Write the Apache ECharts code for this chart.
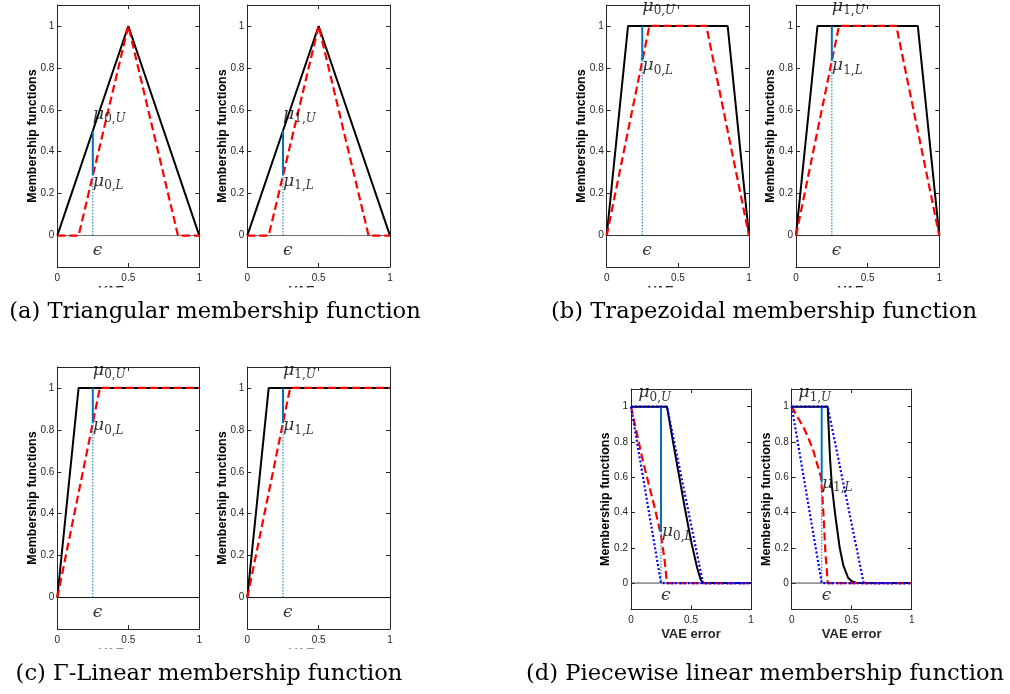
<!DOCTYPE html>
<html>
<head>
<meta charset="utf-8">
<script src="https://cdn.jsdelivr.net/npm/echarts@6/dist/echarts.min.js"></script>
<style>html,body{margin:0;padding:0;background:#fff}#c{width:1010px;height:694px}</style>
</head>
<body>
<div id="c"></div>
<script>
// ---------- data ----------
const xTickValues = [0, 0.5, 1];
const yTickValues = [0, 0.2, 0.4, 0.6, 0.8, 1];
const epsilon = 0.25;
const zeroLine = [[0, 0], [1, 0]];

// (a) triangular
const triUpper = [[0, 0], [0.5, 1], [1, 0]];
const triLower = [[0, 0], [0.15, 0], [0.5, 1], [0.85, 0], [1, 0]];
const triMu = [0.286, 0.5];          // [mu_L, mu_U] at epsilon

// (b) trapezoidal
const trapUpper = [[0, 0], [0.15, 1], [0.85, 1], [1, 0]];
const trapLower = [[0, 0], [0.3, 1], [0.7, 1], [1, 0]];
const trapMu = [0.833, 1];

// (c) Gamma-linear
const gammaUpper = [[0, 0], [0.15, 1], [1, 1]];
const gammaLower = [[0, 0], [0.3, 1], [1, 1]];
const gammaMu = [0.833, 1];

// (d) piecewise linear, class 0
const pw0Upper = [[0, 1], [0.3, 1], [0.35, 0.8], [0.4, 0.61], [0.45, 0.42], [0.5, 0.24], [0.55, 0.09], [0.58, 0.02], [0.6, 0], [1, 0]];
const pw0Lower = [[0, 1], [0.1, 0.69], [0.2, 0.42], [0.25, 0.27], [0.28, 0.13], [0.3, 0], [1, 0]];
const pw0BoundHigh = [[0, 1], [0.3, 1], [0.6, 0], [1, 0]];
const pw0BoundLow = [[0, 1], [0.25, 0], [1, 0]];
const pw0Mu = [0.29, 1];

// (d) piecewise linear, class 1
const pw1Upper = [[0, 1], [0.3, 1], [0.31, 0.85], [0.32, 0.7], [0.335, 0.55], [0.36, 0.4], [0.38, 0.3], [0.4, 0.2], [0.43, 0.1], [0.47, 0.03], [0.5, 0.01], [0.54, 0], [1, 0]];
const pw1Lower = [[0, 1], [0.05, 0.94], [0.1, 0.88], [0.14, 0.82], [0.18, 0.75], [0.21, 0.68], [0.244, 0.6], [0.255, 0.5], [0.267, 0.36], [0.281, 0.17], [0.292, 0.08], [0.3, 0], [1, 0]];
const pw1BoundHigh = [[0, 1], [0.3, 1], [0.6, 0], [1, 0]];
const pw1BoundLow = [[0, 1], [0.25, 0], [1, 0]];
const pw1Mu = [0.57, 1];

// annotation anchors: [subscript class, bound, x, y]
const annTri0 = [['0', 'U', 0.25, 0.58], ['0', 'L', 0.25, 0.26]];
const annTri1 = [['1', 'U', 0.25, 0.58], ['1', 'L', 0.25, 0.26]];
const annTrap0 = [['0', 'U', 0.25, 1.095], ['0', 'L', 0.25, 0.81]];
const annTrap1 = [['1', 'U', 0.25, 1.095], ['1', 'L', 0.25, 0.81]];
const annGam0 = [['0', 'U', 0.25, 1.085], ['0', 'L', 0.25, 0.82]];
const annGam1 = [['1', 'U', 0.25, 1.085], ['1', 'L', 0.25, 0.82]];
const annPw0 = [['0', 'U', 0.06, 1.08], ['0', 'L', 0.256, 0.29]];
const annPw1 = [['1', 'U', 0.055, 1.08], ['1', 'L', 0.25, 0.565]];
const epsPos = [0.25, -0.072];

const captions = ['(a) Triangular membership function', '(b) Trapezoidal membership function',
                  '(c) \u0393-Linear membership function', '(d) Piecewise linear membership function'];

// ---------- layout ----------
const panels = [
  {l: 57.3, t: 5, w: 142, h: 262, up: triUpper, lo: triLower, mu: triMu, ann: annTri0, zc: '#6e6e6e'},
  {l: 247.3, t: 5, w: 142.7, h: 262, up: triUpper, lo: triLower, mu: triMu, ann: annTri1, zc: '#6e6e6e'},
  {l: 606.7, t: 5, w: 142.3, h: 262, up: trapUpper, lo: trapLower, mu: trapMu, ann: annTrap0, zc: '#333'},
  {l: 796, t: 5, w: 143.3, h: 262, up: trapUpper, lo: trapLower, mu: trapMu, ann: annTrap1, zc: '#333'},
  {l: 57.3, t: 367, w: 142, h: 262, up: gammaUpper, lo: gammaLower, mu: gammaMu, ann: annGam0, zc: '#111'},
  {l: 247.3, t: 367, w: 142.7, h: 262, up: gammaUpper, lo: gammaLower, mu: gammaMu, ann: annGam1, zc: '#111'},
  {l: 631, t: 389, w: 120, h: 220.5, up: pw0Upper, lo: pw0Lower, mu: pw0Mu, ann: annPw0, bh: pw0BoundHigh, bl: pw0BoundLow, zc: '#444'},
  {l: 791.7, t: 389, w: 120, h: 220.5, up: pw1Upper, lo: pw1Lower, mu: pw1Mu, ann: annPw1, bh: pw1BoundHigh, bl: pw1BoundLow, zc: '#444'}
];

const axisColor = '#262626';
const tickFont = {fontFamily: 'Liberation Sans, Arial, sans-serif', fontSize: 10, color: axisColor};
const grid = [], xAxis = [], yAxis = [], series = [];

const rich = {
  m: {fontFamily: 'DejaVu Serif', fontStyle: 'italic', fontSize: 17.5, lineHeight: 22, color: '#000'},
  d: {fontFamily: 'DejaVu Serif', fontSize: 12, lineHeight: 9, verticalAlign: 'bottom', color: '#000'},
  s: {fontFamily: 'DejaVu Serif', fontStyle: 'italic', fontSize: 12, lineHeight: 9, verticalAlign: 'bottom', color: '#000'}
};

panels.forEach((p, gi) => {
  grid.push({left: p.l, top: p.t, width: p.w, height: p.h});
  const line = {show: true, onZero: false, lineStyle: {color: axisColor, width: 1}};
  xAxis.push({gridIndex: gi, type: 'value', min: 0, max: 1, position: 'bottom',
    axisLine: line, splitLine: {show: false},
    axisTick: {inside: true, length: 4, customValues: xTickValues, lineStyle: {color: axisColor}},
    axisLabel: {customValues: xTickValues, margin: 6, ...tickFont},
    name: 'VAE error', nameLocation: 'middle', nameGap: 18,
    nameTextStyle: {fontFamily: 'Liberation Sans, Arial, sans-serif', fontWeight: 'bold', fontSize: 13, color: axisColor}});
  xAxis.push({gridIndex: gi, type: 'value', min: 0, max: 1, position: 'top',
    axisLine: line, splitLine: {show: false},
    axisTick: {inside: true, length: 4, customValues: xTickValues, lineStyle: {color: axisColor}},
    axisLabel: {show: false}});
  yAxis.push({gridIndex: gi, type: 'value', min: -0.15, max: 1.1, position: 'left',
    axisLine: line, splitLine: {show: false},
    axisTick: {inside: true, length: 4, customValues: yTickValues, lineStyle: {color: axisColor}},
    axisLabel: {customValues: yTickValues, margin: 3, ...tickFont},
    name: 'Membership functions', nameLocation: 'middle', nameGap: 18.5, nameMoveOverlap: false,
    nameTextStyle: {fontFamily: 'Liberation Sans, Arial, sans-serif', fontWeight: 'bold', fontSize: 12.5, color: '#000'}});
  yAxis.push({gridIndex: gi, type: 'value', min: -0.15, max: 1.1, position: 'right',
    axisLine: line, splitLine: {show: false},
    axisTick: {inside: true, length: 4, customValues: yTickValues, lineStyle: {color: axisColor}},
    axisLabel: {show: false}});

  const ax = {xAxisIndex: 2 * gi, yAxisIndex: 2 * gi};
  const base = {type: 'line', symbol: 'none', silent: true, ...ax};
  series.push({...base, data: zeroLine, lineStyle: {color: p.zc, width: 1}, z: 1});
  series.push({...base, data: p.up, lineStyle: {color: '#000', width: 2}, z: 2});
  series.push({...base, data: p.lo, lineStyle: {color: '#ff0000', width: 2.2, type: [8, 4]}, z: 3});
  series.push({...base, data: [[epsilon, 0], [epsilon, p.mu[0]]], lineStyle: {color: '#2f86c8', width: 1.2, type: [1.5, 1.5]}, z: 4});
  series.push({...base, data: [[epsilon, p.mu[0]], [epsilon, p.mu[1]]], lineStyle: {color: '#0072BD', width: 2}, z: 4});
  if (p.bh) {
    series.push({...base, data: p.bh, lineStyle: {color: '#0000ff', width: 2.2, type: [2, 2.2]}, z: 5});
    series.push({...base, data: p.bl, lineStyle: {color: '#0000ff', width: 2.2, type: [2, 2.2]}, z: 5});
  }
  series.push({type: 'scatter', ...ax, symbolSize: 0, silent: true, z: 6,
    data: p.ann.map(a => ({value: [a[2], a[3]], sub: a[0], b: a[1]})),
    label: {show: true, position: 'right', distance: 0, rich,
      formatter: (q) => '{m|\u03bc}{d|' + q.data.sub + ',}{s|' + q.data.b + '}'}});
  series.push({type: 'scatter', ...ax, symbolSize: 0, silent: true, z: 6,
    data: [epsPos],
    label: {show: true, position: 'right', distance: 0, formatter: '\u03f5',
      fontFamily: 'DejaVu Serif', fontStyle: 'italic', fontSize: 17, color: '#000'}});
});

const capFont = {fontFamily: 'DejaVu Serif', fontSize: 22.6, fill: '#000', textAlign: 'center', textVerticalAlign: 'middle'};
const graphic = [
  {type: 'rect', shape: {x: 0, y: 287.5, width: 1010, height: 50}, style: {fill: '#fff'}, z: 100},
  {type: 'rect', shape: {x: 0, y: 648.5, width: 500, height: 46}, style: {fill: '#fff'}, z: 100},
  {type: 'text', x: 215, y: 312, style: {text: captions[0], ...capFont}, z: 101},
  {type: 'text', x: 764, y: 312, style: {text: captions[1], ...capFont}, z: 101},
  {type: 'text', x: 209, y: 674, style: {text: captions[2], ...capFont}, z: 101},
  {type: 'text', x: 765, y: 674, style: {text: captions[3], ...capFont}, z: 101}
];

const chart = echarts.init(document.getElementById('c'), null, {renderer: 'canvas'});
chart.setOption({animation: false, backgroundColor: '#fff', grid, xAxis, yAxis, series, graphic});
</script>
</body>
</html>
